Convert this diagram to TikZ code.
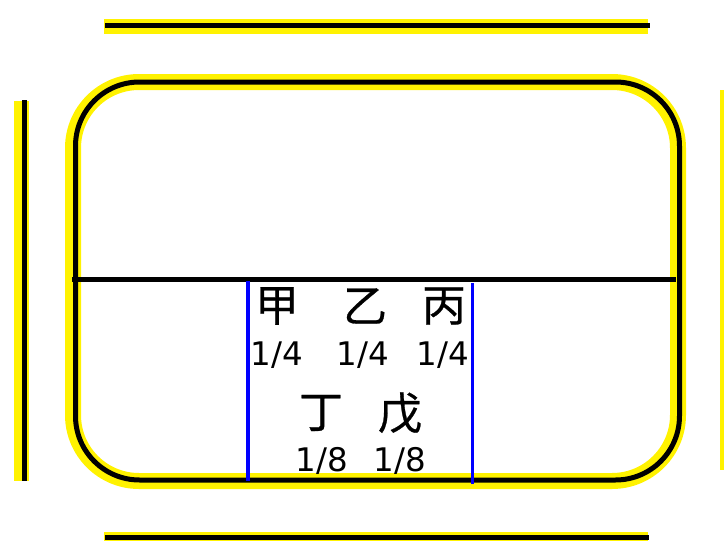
\documentclass[tikz,border=0pt]{standalone}
\usepackage{fontspec}
\setmainfont{DejaVu Sans}
\newfontfamily\cjk[FakeBold=0.6]{Noto Sans CJK SC}
\begin{document}
\begin{tikzpicture}[x=1pt,y=-1pt,
  ylw/.style={draw=yellow,line width=15pt},
  blk/.style={draw=black,line width=5pt},
  blu/.style={draw=blue,line width=3.5pt},
  han/.style={font=\cjk\fontsize{44}{48}\selectfont,inner sep=0pt},
  frac/.style={font=\fontsize{32.5}{36}\selectfont,inner sep=0pt}]
\useasboundingbox (0,0) rectangle (724,541);
% side bars
\draw[ylw,line width=15pt] (104,26) -- (648,26);
\draw[blk] (105,25) -- (650,25);
\draw[ylw,line width=16pt] (104,540) -- (648,540);
\draw[blk] (105,537) -- (649,537);
\draw[ylw] (21.5,101) -- (21.5,481);
\draw[blk] (24,100) -- (24,481);
\draw[ylw] (727,90) -- (727,470);
\draw[blk] (731,90) -- (731,470);
% rounded frame
\draw[ylw,line width=16pt,rounded corners=66pt] (73,82) rectangle (678,481);
\draw[blk,rounded corners=64pt] (75.5,82) rectangle (679.5,480);
% divider
\coordinate (hl) at (72,279);
\coordinate (hr) at (676,279);
\draw[blk] (hl) -- (hr);
\coordinate (b1t) at (248,281);
\coordinate (b1b) at (248,481);
\coordinate (b2t) at (472.5,283);
\coordinate (b2b) at (472.5,484);
\draw[blu] (b1t) -- (b1b);
\draw[blu] (b2t) -- (b2b);
% texts
\node[han] (jia) at (277,306) {甲};
\node[han] (yi) at (365,306) {乙};
\node[han] (bing) at (444,306) {丙};
\node[frac] (f1) at (277,355) {1/4};
\node[frac] (f2) at (363,355) {1/4};
\node[frac] (f3) at (443,355) {1/4};
\node[han] (ding) at (321,413) {丁};
\node[han] (wu) at (400,413) {戊};
\node[frac] (f4) at (322,461) {1/8};
\node[frac] (f5) at (400,461) {1/8};
\end{tikzpicture}
\end{document}
